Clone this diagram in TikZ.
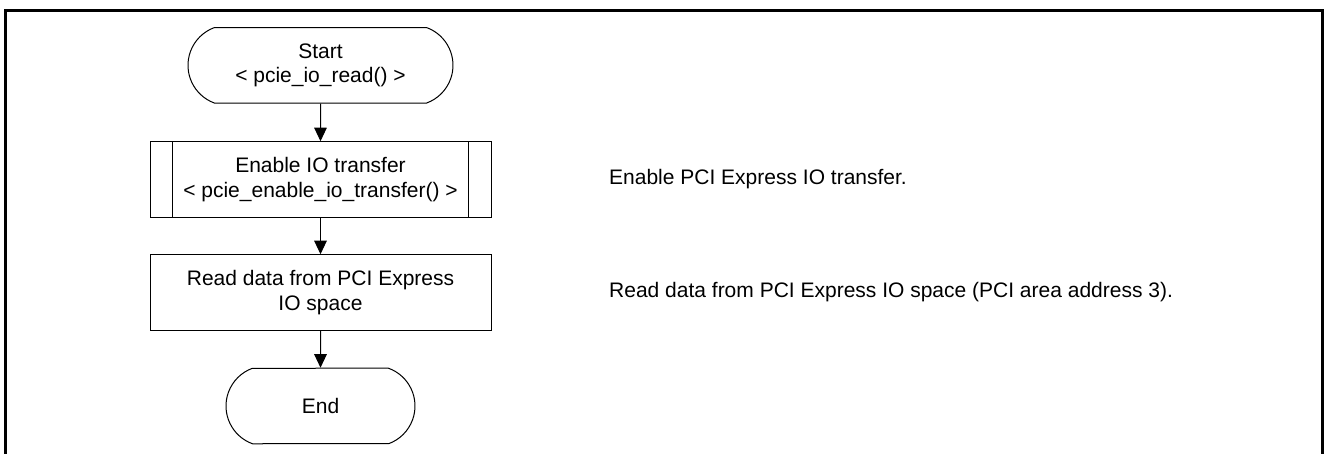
\documentclass[tikz,border=0pt]{standalone}
\usepackage{fontspec}
\setmainfont{Liberation Sans}
\usetikzlibrary{arrows.meta,shapes.misc,calc}

\tikzset{
  flowline/.style={line width=1pt, draw=black},
  terminal/.style={flowline, rounded rectangle, rounded rectangle arc length=140,
    minimum height=75.5pt, align=center, inner sep=0pt},
  procbox/.style={flowline, rectangle, minimum width=341pt, minimum height=75.5pt,
    align=center, inner sep=0pt},
  note/.style={anchor=west, inner sep=0pt, align=left},
  flowarrow/.style={flowline, -{Triangle[length=13.5pt,width=12.5pt]}},
  frameline/.style={line width=2.4pt, draw=black},
  every node/.style={font=\fontsize{21}{24.5}\selectfont}
}

\begin{document}
\begin{tikzpicture}[x=1pt,y=-1pt]
  \useasboundingbox (0,0) rectangle (1326,454);
  \fill[white] (0,0) rectangle (1326,454);

  % open frame around the chart
  \draw[frameline] (5.3,454) -- (5.3,10.7) -- (1322.5,10.7) -- (1322.5,454);

  % flow nodes
  \node[terminal, minimum width=265pt] (start) at (320.5,65.3) {Start\\< pcie\_io\_read() >};
  \node[procbox] (enable) at (320.5,179.5) {Enable IO transfer\\< pcie\_enable\_io\_transfer() >};
  \draw[flowline] ($(enable.north west)+(23,0)$) -- ($(enable.south west)+(23,0)$);
  \draw[flowline] ($(enable.north east)+(-23,0)$) -- ($(enable.south east)+(-23,0)$);
  \node[procbox] (read) at (320.5,292.5) {Read data from PCI Express\\IO space};
  \node[terminal, minimum width=189pt] (end) at (320.5,406) {End};

  % connectors
  \draw[flowarrow] (start) -- (enable);
  \draw[flowarrow] (enable) -- (read);
  \draw[flowarrow] (read) -- (end);

  % side notes
  \node[note] (noteA) at (609,179.5) {Enable PCI Express IO transfer.};
  \node[note] (noteB) at (609,292.5) {Read data from PCI Express IO space (PCI area address 3).};
\end{tikzpicture}
\end{document}
